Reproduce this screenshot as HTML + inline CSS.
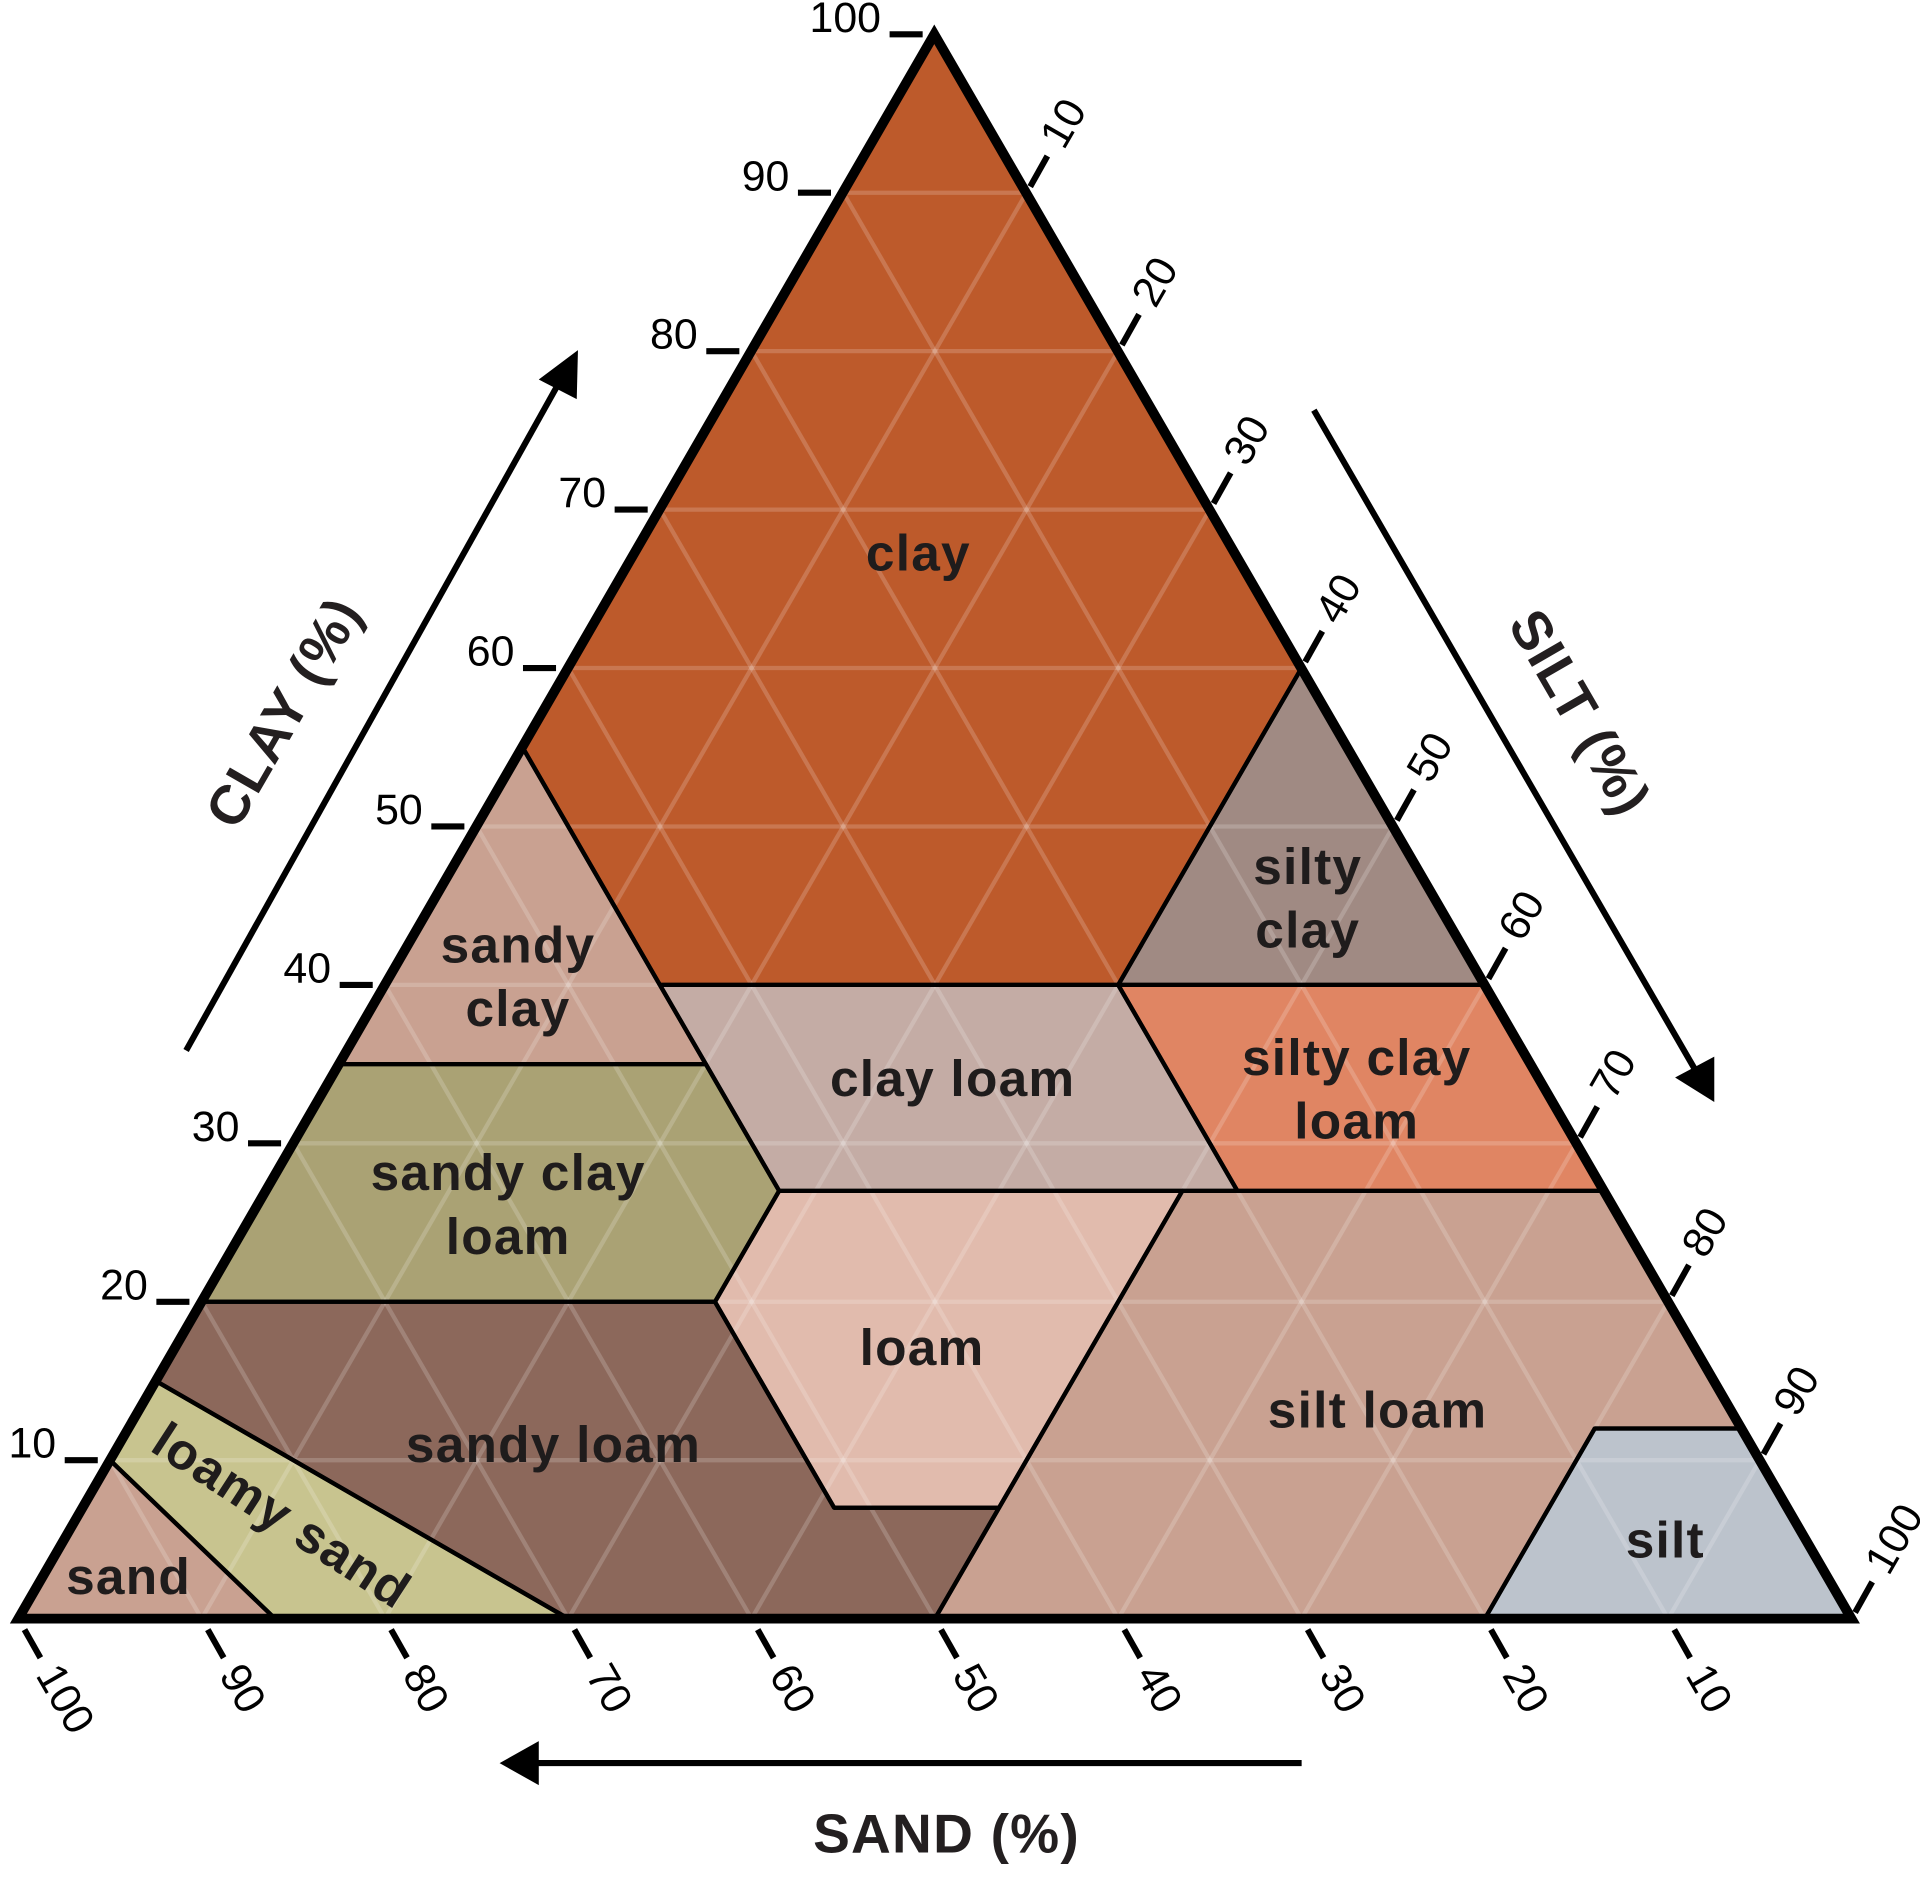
<!DOCTYPE html>
<html><head><meta charset="utf-8">
<style>
html,body{margin:0;padding:0;background:#fff;}
svg{display:block;}
text{font-family:"Liberation Sans",sans-serif;}
.rl{font-size:42px;font-weight:bold;fill:#1f1c1c;text-anchor:middle;letter-spacing:1px;}
.tk{font-size:35px;fill:#000;}
.ttl{font-size:45px;font-weight:bold;fill:#231f20;text-anchor:middle;letter-spacing:1px;}
</style></head>
<body>
<svg id="chart" width="1920" height="1888" viewBox="0 0 1568 1542" preserveAspectRatio="none" xmlns="http://www.w3.org/2000/svg">
<defs><clipPath id="triclip"><polygon points="15,1322 763,28 1512,1322"/></clipPath></defs>
<g id="regions"></g>
<g id="grid" clip-path="url(#triclip)"></g>
<g id="borders"></g>
<polygon points="15,1322 763,28 1512,1322" fill="none" stroke="#000" stroke-width="8" stroke-linejoin="miter"/>
<g id="ticks"></g>
<g id="labels"></g>

<g>
<line x1="152" y1="858" x2="458" y2="310" stroke="#000" stroke-width="5"/>
<polygon points="472,286 471,326 440,310" fill="#000"/>
<text class="ttl" transform="translate(232,582) rotate(-60)" y="15">CLAY (%)</text>
</g>
<g>
<line x1="1073" y1="335" x2="1388" y2="880" stroke="#000" stroke-width="5"/>
<polygon points="1400,900 1400,863 1368,880" fill="#000"/>
<text class="ttl" transform="translate(1290,582) rotate(60)" y="15">SILT (%)</text>
</g>
<g>
<line x1="1063" y1="1440" x2="430" y2="1440" stroke="#000" stroke-width="5"/>
<polygon points="408,1440 440,1422 440,1458" fill="#000"/>
<text class="ttl" x="773" y="1513">SAND (%)</text>
</g>
</svg>
<script>
// Region polygons as [sand, silt, clay] percentages
const clayPoly = [[0,0,100],[45,0,55],[45,15,40],[20,40,40],[0,40,60]];
const sandyClayPoly = [[45,0,55],[65,0,35],[45,20,35],[45,15,40]];
const siltyClayPoly = [[0,40,60],[20,40,40],[0,60,40]];
const clayLoamPoly = [[45,15,40],[20,40,40],[20,53,27],[45,28,27],[45,20,35]];
const siltyClayLoamPoly = [[20,40,40],[0,60,40],[0,73,27],[20,53,27]];
const sandyClayLoamPoly = [[65,0,35],[45,20,35],[45,28,27],[52,28,20],[80,0,20]];
const loamPoly = [[45,28,27],[23,50,27],[43,50,7],[52,41,7],[52,28,20]];
const sandyLoamPoly = [[80,0,20],[52,28,20],[52,41,7],[43,50,7],[50,50,0],[70,30,0],[85,0,15]];
const loamySandPoly = [[85,0,15],[70,30,0],[86,14,0],[90,0,10]];
const sandPoly = [[100,0,0],[90,0,10],[86,14,0]];
const siltLoamPoly = [[23,50,27],[0,73,27],[0,88,12],[8,80,12],[20,80,0],[50,50,0],[43,50,7]];
const siltPoly = [[0,88,12],[0,100,0],[20,80,0],[8,80,12]];

const regionNames = ['clay','sandy-clay','silty-clay','clay-loam','silty-clay-loam','sandy-clay-loam','loam','sandy-loam','loamy-sand','sand','silt-loam','silt'];
const regionPolys = [clayPoly,sandyClayPoly,siltyClayPoly,clayLoamPoly,siltyClayLoamPoly,sandyClayLoamPoly,loamPoly,sandyLoamPoly,loamySandPoly,sandPoly,siltLoamPoly,siltPoly];
const regionColors = ['#bd5a2b','#c9a191','#a08a83','#c4aca5','#e08563','#aaa274','#e1bbad','#8c685b','#c8c48f','#c9a191','#c9a191','#bcc3cc'];

const tickValues = [10,20,30,40,50,60,70,80,90,100];
const tickLabels = ['10','20','30','40','50','60','70','80','90','100'];

const NS = 'http://www.w3.org/2000/svg';
const X0 = 15, Y0 = 1322, W = 1497, H = 1294;
function px(sand, silt, clay){ return X0 + (silt + clay/2)/100*W; }
function py(sand, silt, clay){ return Y0 - clay/100*H; }
function mk(tag, attrs, parent){
  const e = document.createElementNS(NS, tag);
  for (const k in attrs) e.setAttribute(k, attrs[k]);
  parent.appendChild(e); return e;
}
const gR = document.getElementById('regions');
const gB = document.getElementById('borders');
regionPolys.forEach((poly, i) => {
  const pts = poly.map(p => px(...p).toFixed(1) + ',' + py(...p).toFixed(1)).join(' ');
  const f = mk('polygon', {points: pts, fill: regionColors[i], stroke: 'none'}, gR);
  
  
  const b = mk('polygon', {points: pts, fill: 'none', stroke: '#000', 'stroke-width': 3.5, 'stroke-linejoin': 'round'}, gB);
  
  
});

// grid lines every 10%
const gG = document.getElementById('grid');
for (let v = 10; v < 100; v += 10) {
  const lines = [
    [[100-v,0,v],[0,100-v,v]],
    [[100-v,v,0],[0,v,100-v]],
    [[v,100-v,0],[v,0,100-v]]
  ];
  lines.forEach((ln, j) => {
    const l = mk('line', {x1: px(...ln[0]), y1: py(...ln[0]), x2: px(...ln[1]), y2: py(...ln[1]), stroke: 'rgba(255,255,255,0.18)', 'stroke-width': 3.5}, gG);
    
    
  });
}

// ticks
const gT = document.getElementById('ticks');
tickValues.forEach((v, i) => {
  // clay (left edge)
  let ex = px(100-v,0,v), ey = py(100-v,0,v);
  let t = mk('line', {x1: ex-10, y1: ey, x2: ex-37, y2: ey, stroke:'#000','stroke-width':5}, gT);
  
  
  let tx = mk('text', {x: ex-44, y: ey-2, class:'tk', 'text-anchor':'end'}, gT);
  tx.textContent = tickLabels[i];
  
  
  // silt (right edge)
  ex = px(0,v,100-v); ey = py(0,v,100-v);
  t = mk('line', {x1: ex+3, y1: ey-5, x2: ex+17, y2: ey-30, stroke:'#000','stroke-width':5}, gT);
  
  
  tx = mk('text', {class:'tk', 'text-anchor':'start', transform:'translate(' + (ex+20) + ',' + (ey-40) + ') rotate(-60)', y: 12}, gT);
  tx.textContent = tickLabels[i];
  
  
  // sand (bottom edge)
  ex = px(v,100-v,0); ey = py(v,100-v,0);
  t = mk('line', {x1: ex+5, y1: ey+9, x2: ex+18, y2: ey+32, stroke:'#000','stroke-width':5}, gT);
  
  
  tx = mk('text', {class:'tk', 'text-anchor':'start', transform:'translate(' + (ex+24) + ',' + (ey+40) + ') rotate(60)', y: 12}, gT);
  tx.textContent = tickLabels[i];
  
  
});

// region labels
const labelTexts = [['clay'],['sandy','clay'],['silty','clay'],['clay loam'],['silty clay','loam'],['sandy clay','loam'],['loam'],['sandy loam'],['silt loam'],['sand'],['silt']];
const labelX = [750,423,1068,778,1108,415,753,452,1125,105,1360];
const labelY = [452,772,708,881,864,958,1101,1180,1152,1288,1258];
const gL = document.getElementById('labels');
labelTexts.forEach((lines, i) => {
  lines.forEach((s, j) => {
    const e = mk('text', {x: labelX[i], y: labelY[i] + j*52 + 14, class:'rl'}, gL);
    e.textContent = s;
    
    
  });
});
const ls = mk('text', {class:'rl', transform:'translate(230,1238) rotate(33)', y: 14}, gL);
ls.textContent = 'loamy sand';


</script>
</body></html>
